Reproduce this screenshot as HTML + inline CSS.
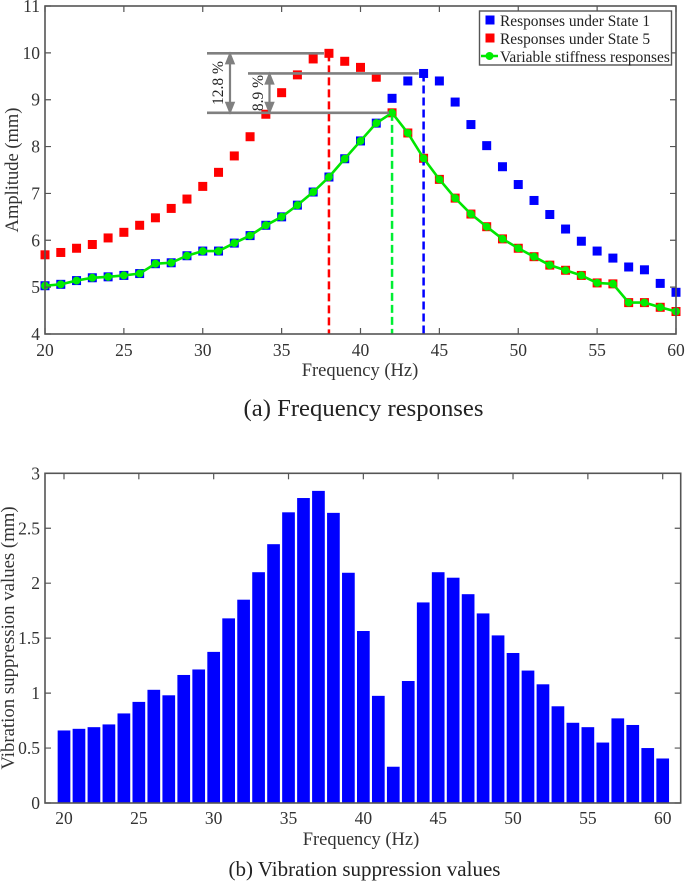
<!DOCTYPE html>
<html lang="en">
<head>
<meta charset="utf-8">
<title>Frequency responses and vibration suppression values</title>
<style>
html,body{margin:0;padding:0;background:#fff;width:685px;height:882px;overflow:hidden}
svg{display:block}
text{font-family:"Liberation Serif",serif;fill:#333}
</style>
</head>
<body>
<svg id="fig" xmlns="http://www.w3.org/2000/svg" width="685" height="882" viewBox="0 0 685 882"></svg>
<script>
const frequencies = [20,21,22,23,24,25,26,27,28,29,30,31,32,33,34,35,36,37,38,39,40,41,42,43,44,45,46,47,48,49,50,51,52,53,54,55,56,57,58,59,60];
const state1Values = [5.03,5.06,5.14,5.2,5.22,5.25,5.29,5.5,5.52,5.67,5.77,5.77,5.94,6.1,6.32,6.5,6.75,7.03,7.35,7.74,8.12,8.5,9.03,9.4,9.56,9.4,8.95,8.47,8.02,7.57,7.19,6.85,6.55,6.24,5.98,5.77,5.62,5.43,5.37,5.08,4.89];
const state5Values = [5.69,5.74,5.83,5.91,6.05,6.17,6.32,6.48,6.68,6.88,7.15,7.45,7.8,8.21,8.69,9.15,9.53,9.87,9.99,9.82,9.69,9.48,8.72,8.29,7.75,7.3,6.9,6.56,6.29,6.03,5.83,5.65,5.47,5.36,5.25,5.09,5.07,4.67,4.67,4.57,4.48];
const variableValues = [5.03,5.06,5.14,5.2,5.22,5.25,5.29,5.5,5.52,5.67,5.77,5.77,5.94,6.1,6.32,6.5,6.75,7.03,7.35,7.74,8.12,8.5,8.72,8.29,7.75,7.3,6.9,6.56,6.29,6.03,5.83,5.65,5.47,5.36,5.25,5.09,5.07,4.67,4.67,4.57,4.48];
const suppressionValues = [0.66,0.675,0.69,0.715,0.815,0.92,1.03,0.98,1.165,1.215,1.375,1.68,1.85,2.1,2.355,2.645,2.775,2.84,2.64,2.095,1.565,0.975,0.33,1.11,1.825,2.1,2.05,1.9,1.725,1.525,1.365,1.205,1.08,0.88,0.73,0.69,0.55,0.77,0.71,0.5,0.405];
const topXTicks = [20,25,30,35,40,45,50,55,60];
const topYTicks = [4,5,6,7,8,9,10,11];
const bottomXTicks = [20,25,30,35,40,45,50,55,60];
const bottomYTicks = [0,0.5,1,1.5,2,2.5,3];
const peakState1 = 44;
const peakState5 = 38;
const peakVariable = 42;

const NS = 'http://www.w3.org/2000/svg';
const fig = document.getElementById('fig');
const AXIS = '#555';
const GRAY = '#808080';

function mk(tag, attrs, text) {
  const el = document.createElementNS(NS, tag);
  for (const k in attrs) el.setAttribute(k, attrs[k]);
  if (text !== undefined) el.textContent = text;
  fig.appendChild(el);
  return el;
}

/* axis functions */
const topX = f => 45 + (f - 20) * (676 - 45) / 40;
const topY = v => 334 - (v - 4) * (334 - 6) / 7;
const botX = f => 64 + (f - 20) * (662.7 - 64) / 40;
const botY = v => 803 - v * (803 - 473.3) / 3;
const valueAt = (arr, f) => arr[frequencies.indexOf(f)];

/* ---------- top chart: series ---------- */
frequencies.forEach((f, i) => {
  const m = mk('rect', {x: topX(f) - 4.5, y: topY(state1Values[i]) - 4.5, width: 9, height: 9, fill: '#0000ff'});
  
  
});
frequencies.forEach((f, i) => {
  if (f < peakVariable || state5Values[i] === variableValues[i]) {
    const m = mk('rect', {x: topX(f) - 4.5, y: topY(state5Values[i]) - 4.5, width: 9, height: 9, fill: '#ff0000'});
    
    
  }
});
frequencies.forEach((f, i) => {
  if (f >= peakVariable && state5Values[i] !== variableValues[i]) {
    const m = mk('rect', {x: topX(f) - 4.5, y: topY(state5Values[i]) - 4.5, width: 9, height: 9, fill: '#ff0000'});
    
    
  }
});

const dashRed = mk('line', {x1: topX(peakState5), x2: topX(peakState5), y1: topY(valueAt(state5Values, peakState5)), y2: 334, stroke: '#ff0000', 'stroke-width': 2.5, 'stroke-dasharray': '8 4'});


const dashBlue = mk('line', {x1: topX(peakState1), x2: topX(peakState1), y1: topY(valueAt(state1Values, peakState1)), y2: 334, stroke: '#0000ff', 'stroke-width': 2.5, 'stroke-dasharray': '8 4'});


const dashGreen = mk('line', {x1: topX(peakVariable), x2: topX(peakVariable), y1: topY(valueAt(variableValues, peakVariable)), y2: 334, stroke: '#00ee33', 'stroke-width': 2.5, 'stroke-dasharray': '8 4'});



const varLine = mk('polyline', {points: frequencies.map((f, i) => topX(f) + ',' + topY(variableValues[i])).join(' '), fill: 'none', stroke: '#00e600', 'stroke-width': 2.6});


frequencies.forEach((f, i) => {
  const m = mk('circle', {cx: topX(f), cy: topY(variableValues[i]), r: 4, fill: '#00ee00'});
  
  
});

/* ---------- top chart: annotation ---------- */
const y5 = topY(valueAt(state5Values, peakState5));
const y1 = topY(valueAt(state1Values, peakState1));
const yV = topY(valueAt(variableValues, peakVariable));
const refA = mk('line', {x1: 207, x2: topX(peakState5) - 5, y1: y5, y2: y5, stroke: GRAY, 'stroke-width': 2.6});


const refB = mk('line', {x1: 248, x2: topX(peakState1) - 5, y1: y1, y2: y1, stroke: GRAY, 'stroke-width': 2.6});


const refC = mk('line', {x1: 207, x2: topX(peakVariable) - 3, y1: yV, y2: yV, stroke: GRAY, 'stroke-width': 2.6});



function arrowPath(x, a, b) {
  return 'M' + x + ' ' + (a + 9) + 'V' + (b - 9) + 'M' + (x - 3.6) + ' ' + (a + 10) + 'L' + x + ' ' + (a + 1) + 'L' + (x + 3.6) + ' ' + (a + 10) + 'Z' +
         'M' + (x - 3.6) + ' ' + (b - 10) + 'L' + x + ' ' + (b - 1) + 'L' + (x + 3.6) + ' ' + (b - 10) + 'Z';
}
const arrowA = mk('path', {d: arrowPath(230, y5, yV), stroke: GRAY, 'stroke-width': 2.2, fill: GRAY});


const arrowB = mk('path', {d: arrowPath(269.5, y1, yV), stroke: GRAY, 'stroke-width': 2.2, fill: GRAY});


const pctA = mk('text', {transform: 'translate(223,83) rotate(-90)', 'text-anchor': 'middle', 'font-size': 15.5, style: 'fill:#222'}, '12.8 %');


const pctB = mk('text', {transform: 'translate(263,93) rotate(-90)', 'text-anchor': 'middle', 'font-size': 15.5, style: 'fill:#222'}, '8.9 %');



/* ---------- top chart: axes ---------- */
const topBox = mk('rect', {x: 45, y: 6, width: 631, height: 328, fill: 'none', stroke: AXIS, 'stroke-width': 1.6});


topXTicks.forEach(t => {
  const x = topX(t);
  const a = mk('path', {d: 'M' + x + ' 334v-6M' + x + ' 6v6', stroke: AXIS, 'stroke-width': 1.2, fill: 'none'});
  
  
  const l = mk('text', {x: x, y: 356, 'text-anchor': 'middle', 'font-size': 17.5}, String(t));
  
  
});
topYTicks.forEach(t => {
  const y = topY(t);
  const a = mk('path', {d: 'M45 ' + y + 'h6M676 ' + y + 'h-6', stroke: AXIS, 'stroke-width': 1.2, fill: 'none'});
  
  
  const l = mk('text', {x: 40, y: y + 6, 'text-anchor': 'end', 'font-size': 17.5}, String(t));
  
  
});
const topXTitle = mk('text', {x: 360, y: 376, 'text-anchor': 'middle', 'font-size': 18.5}, 'Frequency (Hz)');


const topYTitle = mk('text', {transform: 'translate(18,170) rotate(-90)', 'text-anchor': 'middle', 'font-size': 18.5}, 'Amplitude (mm)');


const capA = mk('text', {x: 363.5, y: 416, 'text-anchor': 'middle', 'font-size': 24.7, style: 'fill:#222'}, '(a) Frequency responses');



/* ---------- legend ---------- */
const legendBox = mk('rect', {x: 479.5, y: 11, width: 192, height: 54, fill: '#fff', stroke: AXIS, 'stroke-width': 1.4});


const legBlue = mk('rect', {x: 485.5, y: 15.5, width: 9, height: 9, fill: '#0000ff'});


const legBlueT = mk('text', {x: 500, y: 26, 'font-size': 15.4, style: 'fill:#222'}, 'Responses under State 1');


const legRed = mk('rect', {x: 485.5, y: 33.5, width: 9, height: 9, fill: '#ff0000'});


const legRedT = mk('text', {x: 500, y: 44, 'font-size': 15.4, style: 'fill:#222'}, 'Responses under State 5');


const legLine = mk('line', {x1: 481, x2: 498, y1: 56, y2: 56, stroke: '#00e600', 'stroke-width': 2.4});


const legDot = mk('circle', {cx: 489.5, cy: 56, r: 4, fill: '#00ee00'});


const legVarT = mk('text', {x: 500, y: 62, 'font-size': 15.4, style: 'fill:#222'}, 'Variable stiffness responses');



/* ---------- bottom chart ---------- */
const barW = 12.7;
frequencies.forEach((f, i) => {
  const b = mk('rect', {x: botX(f) - barW / 2, y: botY(suppressionValues[i]), width: barW, height: botY(0) - botY(suppressionValues[i]), fill: '#0000ff'});
  
  
});
const botBox = mk('rect', {x: 45, y: 473.3, width: 635.7, height: 329.7, fill: 'none', stroke: AXIS, 'stroke-width': 1.6});


bottomXTicks.forEach(t => {
  const x = botX(t);
  const a = mk('path', {d: 'M' + x + ' 473.3v6', stroke: AXIS, 'stroke-width': 1.2, fill: 'none'});
  
  
  const l = mk('text', {x: x, y: 824, 'text-anchor': 'middle', 'font-size': 17.5}, String(t));
  
  
});
bottomYTicks.forEach(t => {
  const y = botY(t);
  const a = mk('path', {d: 'M45 ' + y + 'h6M680.7 ' + y + 'h-6', stroke: AXIS, 'stroke-width': 1.2, fill: 'none'});
  
  
  const l = mk('text', {x: 40, y: y + 6, 'text-anchor': 'end', 'font-size': 17.5}, String(t));
  
  
});
const botXTitle = mk('text', {x: 361, y: 845, 'text-anchor': 'middle', 'font-size': 18.5}, 'Frequency (Hz)');


const botYTitle = mk('text', {transform: 'translate(14,638) rotate(-90)', 'text-anchor': 'middle', 'font-size': 18.8}, 'Vibration suppression values (mm)');


const capB = mk('text', {x: 364.5, y: 876, 'text-anchor': 'middle', 'font-size': 21, style: 'fill:#222'}, '(b) Vibration suppression values');


</script>
</body>
</html>
